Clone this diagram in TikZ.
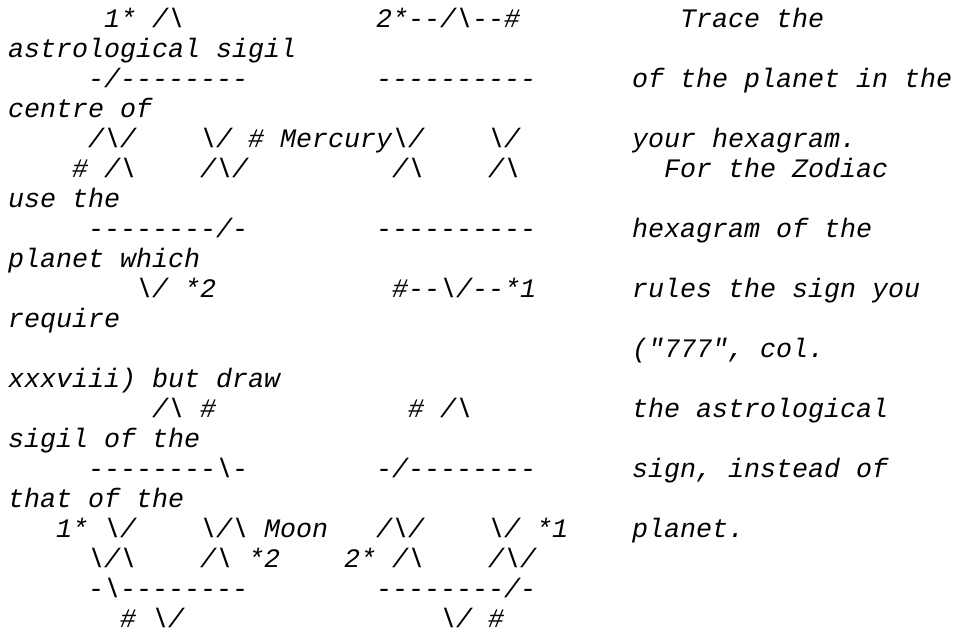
\documentclass[tikz,border=0pt]{standalone}
\usepackage{fontspec}
\setmonofont{Liberation Mono}
\newcommand{\bs}{\textbackslash}
\tikzset{
  ascii/.style={anchor=base west, inner sep=0pt, outer sep=0pt},
}
\begin{document}
\frenchspacing
\begin{tikzpicture}[x=16bp, y=-30bp,
    font=\ttfamily\itshape\fontsize{26.67bp}{30bp}\selectfont]
    \useasboundingbox (-8bp,-3bp) rectangle (952bp,-639bp);

    % Upper hexagram (Mercury)
    \node[ascii] (mtop)   at (6,1)  {1* /\bs};
    \node[ascii] (mtopr)  at (23,1) {2*--/\bs--\#};
    \node[ascii] (mbarl)  at (5,3)  {-/--------};
    \node[ascii] (mbarr)  at (23,3) {----------};
    \node[ascii] (mmidl)  at (5,5)  {/\bs/};
    \node[ascii] (mname)  at (12,5) {\bs/ \# Mercury\bs/};
    \node[ascii] (mmidr)  at (30,5) {\bs/};
    \node[ascii] (mcrl)   at (4,6)  {\# /\bs};
    \node[ascii] (mcrc)   at (12,6) {/\bs/};
    \node[ascii] (mcrm)   at (24,6) {/\bs};
    \node[ascii] (mcrr)   at (30,6) {/\bs};
    \node[ascii] (mlowl)  at (5,8)  {--------/-};
    \node[ascii] (mlowr)  at (23,8) {----------};
    \node[ascii] (mbotl)  at (8,10) {\bs/ *2};
    \node[ascii] (mbotr)  at (24,10) {\#--\bs/--*1};

    % Lower hexagram (Moon)
    \node[ascii] (ltopl)  at (9,14)  {/\bs{} \#};
    \node[ascii] (ltopr)  at (25,14) {\# /\bs};
    \node[ascii] (lbarl)  at (5,16)  {--------\bs-};
    \node[ascii] (lbarr)  at (23,16) {-/--------};
    \node[ascii] (lmidl)  at (3,18)  {1* \bs/};
    \node[ascii] (lname)  at (12,18) {\bs/\bs{} Moon};
    \node[ascii] (lmidc)  at (23,18) {/\bs/};
    \node[ascii] (lmidr)  at (30,18) {\bs/ *1};
    \node[ascii] (lcrl)   at (5,19)  {\bs/\bs};
    \node[ascii] (lcrc)   at (12,19) {/\bs{} *2};
    \node[ascii] (lcrm)   at (21,19) {2* /\bs};
    \node[ascii] (lcrr)   at (30,19) {/\bs/};
    \node[ascii] (llowl)  at (5,20)  {-\bs--------};
    \node[ascii] (llowr)  at (23,20) {--------/-};
    \node[ascii] (lbotl)  at (7,21)  {\# \bs/};
    \node[ascii] (lbotr)  at (27,21) {\bs/ \#};

    % Instructions (wrapped)
    \node[ascii] (note1)  at (42,1)  {Trace the};
    \node[ascii] (note2)  at (0,2)   {astrological sigil};
    \node[ascii] (note3)  at (39,3)  {of the planet in the};
    \node[ascii] (note4)  at (0,4)   {centre of};
    \node[ascii] (note5)  at (39,5)  {your hexagram.};
    \node[ascii] (note6)  at (41,6)  {For the Zodiac};
    \node[ascii] (note7)  at (0,7)   {use the};
    \node[ascii] (note8)  at (39,8)  {hexagram of the};
    \node[ascii] (note9)  at (0,9)   {planet which};
    \node[ascii] (note10) at (39,10) {rules the sign you};
    \node[ascii] (note11) at (0,11)  {require};
    \node[ascii] (note12) at (39,12) {("777", col.};
    \node[ascii] (note13) at (0,13)  {xxxviii) but draw};
    \node[ascii] (note14) at (39,14) {the astrological};
    \node[ascii] (note15) at (0,15)  {sigil of the};
    \node[ascii] (note16) at (39,16) {sign, instead of};
    \node[ascii] (note17) at (0,17)  {that of the};
    \node[ascii] (note18) at (39,18) {planet.};
\end{tikzpicture}
\end{document}
